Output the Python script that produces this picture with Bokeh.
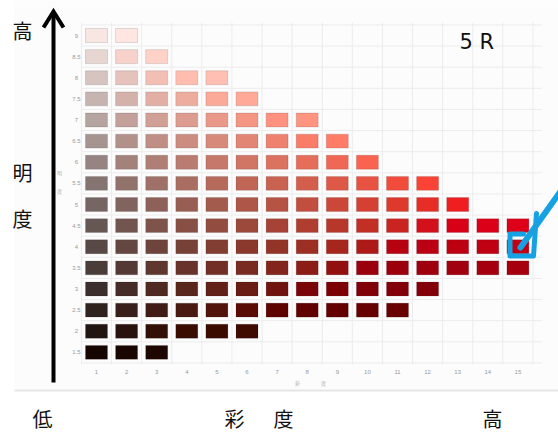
import math
from bokeh.plotting import figure
from bokeh.models import Range1d
from bokeh.core.properties import value
from bokeh.embed import file_html
from bokeh.resources import INLINE

# ---------------- data ----------------
hue_name = "5 R"
values = [9, 8.5, 8, 7.5, 7, 6.5, 6, 5.5, 5, 4.5, 4, 3.5, 3, 2.5, 2, 1.5]
value_labels = ["9", "8.5", "8", "7.5", "7", "6.5", "6", "5.5", "5", "4.5", "4", "3.5", "3", "2.5", "2", "1.5"]
max_chroma = [2, 3, 5, 6, 8, 9, 10, 12, 13, 15, 15, 15, 12, 11, 6, 3]
chroma_ticks = [1, 2, 3, 4, 5, 6, 7, 8, 9, 10, 11, 12, 13, 14, 15]
chroma_labels = ["1", "2", "3", "4", "5", "6", "7", "8", "9", "10", "11", "12", "13", "14", "15"]

# ---------------- colour model (Munsell-like 5R via CIELAB) ----------------
def lab_to_lin(L, a, b):
    fy = (L + 16) / 116
    fx = fy + a / 500
    fz = fy - b / 200
    def finv(t):
        return t ** 3 if t > 6 / 29 else 3 * (6 / 29) ** 2 * (t - 4 / 29)
    X = 0.95047 * finv(fx); Y = finv(fy); Z = 1.08883 * finv(fz)
    r = 3.2406 * X - 1.5372 * Y - 0.4986 * Z
    g = -0.9689 * X + 1.8758 * Y + 0.0415 * Z
    bb = 0.0557 * X - 0.2040 * Y + 1.0570 * Z
    return r, g, bb

def enc(c):
    c = min(max(c, 0.0), 1.0)
    return 12.92 * c if c <= 0.0031308 else 1.055 * c ** (1 / 2.4) - 0.055

def cell_color(v, c):
    L = max(12 * v - 16 + 0.55 * c, 2.0)
    h = math.radians(36)
    C = 7.0 * c
    def rgb(s):
        return lab_to_lin(L, s * C * math.cos(h), s * C * math.sin(h))
    def ok(t):
        return all(-1e-4 <= k <= 1.0001 for k in t)
    s = 1.0
    if not ok(rgb(1.0)):
        lo, hi = 0.0, 1.0
        for _ in range(30):
            mid = (lo + hi) / 2
            if ok(rgb(mid)):
                lo = mid
            else:
                hi = mid
        s = lo
    r, g, b = rgb(s)
    return "#%02x%02x%02x" % tuple(int(round(enc(k) * 255)) for k in (r, g, b))

# ---------------- pixel helpers for annotation placement ----------------
X0, DX = 96.0, 30.1   # pixel x of chroma 1, px per chroma step
Y0, DY = 35.0, 42.25  # pixel y of value 9, px per value unit
def dx(px):
    return 1 + (px - X0) / DX
def dy(py):
    return 9 - (py - Y0) / DY

W, H = 558, 434
p = figure(width=W, height=H, x_range=Range1d(dx(0), dx(W)), y_range=Range1d(dy(H), dy(0)),
           toolbar_location=None, output_backend="svg", min_border=0)
p.axis.visible = False
p.grid.visible = False
p.outline_line_color = None
p.background_fill_color = "white"

# photo background
p.quad(left=[dx(14)], right=[dx(560)], top=[dy(-2)], bottom=[dy(390)], fill_color="#fcfcfc", line_color=None)
p.segment(x0=[dx(14)], y0=[dy(390)], x1=[dx(560)], y1=[dy(390)], line_color="#e6e6e6", line_width=2)

# grid
gx = [c + 0.5 for c in range(0, 16)]
p.segment(x0=gx, y0=[dy(22)] * len(gx), x1=gx, y1=[dy(364)] * len(gx), line_color="#ececec", line_width=1)
gy = [v + 0.25 for v in values] + [values[-1] - 0.25]
p.segment(x0=[0.5] * len(gy), y0=gy, x1=[15.8] * len(gy), y1=gy, line_color="#ececec", line_width=1)

# cells
xs, ys, cols = [], [], []
for v, m in zip(values, max_chroma):
    for c in chroma_ticks[:m]:
        xs.append(c); ys.append(v); cols.append(cell_color(v, c))
p.rect(x=xs, y=ys, width=0.73, height=0.33, fill_color=cols, line_color="#000000", line_alpha=0.12, line_width=1)

# small tick labels
p.text(x=[dx(76)] * len(values), y=values, text=value_labels, text_font_size="6px", text_color="#9a9a9a",
       text_align="center", text_baseline="middle")
p.text(x=chroma_ticks, y=[dy(371)] * len(chroma_ticks), text=chroma_labels, text_font_size="6px",
       text_color="#9a9a9a", text_align="center", text_baseline="middle")
p.text(x=[dx(297), dx(323)], y=[dy(382)] * 2, text=["彩", "度"], text_font_size="5px", text_color="#a8a8a8",
       text_align="center", text_baseline="middle", text_font=value("Noto Sans CJK JP"))
p.text(x=[dx(59)] * 2, y=[dy(172), dy(190)], text=["明", "度"], text_font_size="5px", text_color="#a8a8a8",
       text_align="center", text_baseline="middle", text_font=value("Noto Sans CJK JP"))

# hue label
p.text(x=[dx(459)], y=[dy(41)], text=[hue_name], text_font_size="21px", text_color="#111111",
       text_align="left", text_baseline="middle", text_font=value("DejaVu Sans"))

# black vertical arrow (value axis)
p.line(x=[dx(53), dx(53)], y=[dy(382), dy(12)], line_color="black", line_width=4)
p.line(x=[dx(43), dx(53), dx(63)], y=[dy(27), dy(11), dy(27)], line_color="black", line_width=4,
       line_join="miter")

# big labels
big = dict(text_font_size="20px", text_color="#111111", text_align="center", text_baseline="middle",
           text_font=value("Noto Sans CJK JP"))
p.text(x=[dx(22), dx(22), dx(22)], y=[dy(30), dy(172), dy(218)], text=["高", "明", "度"], **big)
p.text(x=[dx(42), dx(234), dx(283), dx(492)], y=[dy(418)] * 4, text=["低", "彩", "度", "高"], **big)

# blue arrow marking the highlighted cell
blue = "#16a2e2"
p.line(x=[dx(562), dx(520)], y=[dy(188), dy(247)], line_color=blue, line_width=6, line_cap="round")
p.line(x=[dx(523), dx(509.5), dx(509.5), dx(533), dx(536)],
       y=[dy(233.5), dy(233.5), dy(255.5), dy(255.5), dy(213)],
       line_color=blue, line_width=5, line_join="round", line_cap="round")

open("out.html", "w").write(file_html(p, INLINE))
